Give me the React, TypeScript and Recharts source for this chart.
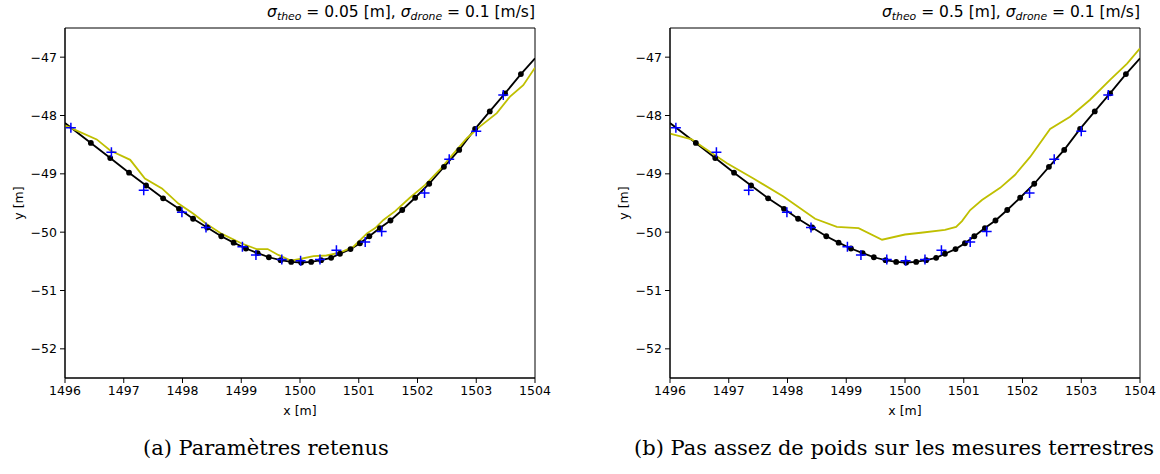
import React from "react";
import { ComposedChart, Line, Scatter, XAxis, YAxis, ReferenceArea } from "recharts";

// true profile (black dots)
const truthX = [
  1496.0, 1496.44, 1496.77, 1497.09, 1497.38, 1497.67, 1497.94, 1498.18, 1498.42,
  1498.66, 1498.87, 1499.08, 1499.28, 1499.47, 1499.67, 1499.85, 1500.02, 1500.19,
  1500.36, 1500.53, 1500.68, 1500.86, 1501.02, 1501.18, 1501.36, 1501.54, 1501.74,
  1501.96, 1502.2, 1502.45, 1502.71, 1502.98, 1503.23, 1503.49, 1503.76, 1504.0,
];
const truthY = [
  -48.13, -48.47, -48.73, -48.98, -49.2, -49.42, -49.6, -49.77, -49.92, -50.07,
  -50.18, -50.28, -50.36, -50.43, -50.48, -50.51, -50.52, -50.51, -50.48, -50.44,
  -50.37, -50.29, -50.19, -50.07, -49.93, -49.8, -49.62, -49.41, -49.17, -48.88,
  -48.59, -48.23, -47.93, -47.62, -47.29, -47.02,
];

// ground measurements (blue crosses)
const obsX = [
  1496.1, 1496.79, 1497.34, 1497.99, 1498.4, 1499.02, 1499.25, 1499.69, 1500.01,
  1500.34, 1500.62, 1501.11, 1501.39, 1502.12, 1502.54, 1503.0, 1503.46,
];
const obsY = [
  -48.21, -48.63, -49.28, -49.66, -49.92, -50.25, -50.39, -50.47, -50.49, -50.47,
  -50.31, -50.17, -49.99, -49.33, -48.75, -48.27, -47.65,
];

// estimate, sigma_theo = 0.05
const estAX = [
  1496.0, 1496.54, 1496.77, 1497.11, 1497.36, 1497.65, 1497.93, 1498.18, 1498.41,
  1498.67, 1499.0, 1499.26, 1499.45, 1499.63, 1499.85, 1500.0, 1500.23, 1500.45,
  1500.68, 1500.91, 1501.14, 1501.28, 1501.42, 1501.62, 1501.87, 1502.13, 1502.38,
  1502.59, 1502.84, 1503.06, 1503.35, 1503.57, 1503.8, 1504.0,
];
const estAY = [
  -48.17, -48.41, -48.6, -48.76, -49.08, -49.25, -49.51, -49.68, -49.86, -50.03,
  -50.19, -50.29, -50.29, -50.39, -50.49, -50.46, -50.41, -50.4, -50.35, -50.25,
  -50.02, -49.93, -49.79, -49.64, -49.41, -49.19, -48.93, -48.68, -48.39, -48.19,
  -47.96, -47.68, -47.48, -47.18,
];

// estimate, sigma_theo = 0.5
const estBX = [
  1496.0, 1496.37, 1496.57, 1496.97, 1497.42, 1497.93, 1498.47, 1498.84, 1499.21,
  1499.61, 1500.0, 1500.27, 1500.68, 1500.87, 1500.97, 1501.11, 1501.31, 1501.62,
  1501.87, 1502.13, 1502.47, 1502.81, 1503.15, 1503.49, 1503.78, 1504.0,
];
const estBY = [
  -48.31, -48.41, -48.55, -48.82, -49.08, -49.39, -49.77, -49.91, -49.93, -50.13,
  -50.04, -50.01, -49.96, -49.91, -49.81, -49.62, -49.45, -49.24, -49.02, -48.71,
  -48.23, -48.02, -47.73, -47.39, -47.11, -46.85,
];

const xTicks = [1496, 1497, 1498, 1499, 1500, 1501, 1502, 1503, 1504];
const yTicks = [-52, -51, -50, -49, -48, -47];
const xDomain: [number, number] = [1496, 1504];
const yDomain: [number, number] = [-52.5, -46.5];

const zip = (xs: number[], ys: number[]) => xs.map((x, i) => ({ x, y: ys[i] }));
const truth = zip(truthX, truthY);
const obs = zip(obsX, obsY);
const estA = zip(estAX, estAY);
const estB = zip(estBX, estBY);

const tickStyle = { fill: "#000", fontSize: 12.5, fontFamily: "DejaVu Sans" };
const fmt = (v: number) => (v < 0 ? "\u2212" + Math.abs(v) : String(v));

const Plus = (p: any) => {
  const { cx, cy } = p;
  if (cx == null || cy == null) return <g />;
  return (
    <path
      d={`M${cx - 5},${cy}H${cx + 5}M${cx},${cy - 5}V${cy + 5}`}
      stroke="#0000ff"
      strokeWidth={1.5}
      fill="none"
    />
  );
};

const TruthDot = (p: any) => {
  const { cx, cy, index } = p;
  if (index === 0 || index === truth.length - 1) return <g key={`d${index}`} />;
  return <circle key={`d${index}`} cx={cx} cy={cy} r={2.9} fill="#000" />;
};

function Panel({ est, width, right }: { est: { x: number; y: number }[]; width: number; right: number }) {
  return (
    <ComposedChart
      width={width}
      height={474}
      margin={{ top: 28, right, bottom: 56, left: 0 }}
    >
      <XAxis
        type="number"
        dataKey="x"
        domain={xDomain}
        ticks={xTicks}
        allowDataOverflow
        height={40}
        tickSize={5}
        tickMargin={3}
        tick={tickStyle}
        axisLine={{ stroke: "#000", strokeWidth: 1 }}
        tickLine={{ stroke: "#000" }}
        label={{
          content: ({ viewBox }: any) => (
            <text
              x={viewBox.x + viewBox.width / 2}
              y={viewBox.y + 37}
              textAnchor="middle"
              fontSize={12.5}
              fontFamily="DejaVu Sans"
              fill="#000"
            >
              x [m]
            </text>
          ),
        }}
      />
      <YAxis
        type="number"
        dataKey="y"
        domain={yDomain}
        ticks={yTicks}
        allowDataOverflow
        width={65}
        tickSize={5}
        tickMargin={3}
        tick={tickStyle}
        tickFormatter={fmt}
        axisLine={{ stroke: "#000", strokeWidth: 1 }}
        tickLine={{ stroke: "#000" }}
        label={{
          content: ({ viewBox }: any) => {
            const cx = viewBox.x + 18;
            const cy = viewBox.y + viewBox.height / 2;
            return (
              <text
                x={cx}
                y={cy}
                transform={`rotate(-90 ${cx} ${cy})`}
                textAnchor="middle"
                dominantBaseline="central"
                fontSize={12.5}
                fontFamily="DejaVu Sans"
                fill="#000"
              >
                y [m]
              </text>
            );
          },
        }}
      />
      {/* axes frame */}
      <ReferenceArea
        x1={xDomain[0]}
        x2={xDomain[1]}
        y1={yDomain[0]}
        y2={yDomain[1]}
        fill="none"
        stroke="#000"
        strokeWidth={1}
        ifOverflow="visible"
      />
      <Line
        data={truth}
        dataKey="y"
        stroke="#000"
        strokeWidth={1.8}
        dot={TruthDot}
        activeDot={false}
        isAnimationActive={false}
        type="linear"
      />
      <Line
        data={est}
        dataKey="y"
        stroke="#bfbf00"
        strokeWidth={1.8}
        dot={false}
        activeDot={false}
        isAnimationActive={false}
        type="linear"
      />
      <Scatter data={obs} dataKey="y" shape={Plus} isAnimationActive={false} />
    </ComposedChart>
  );
}

const Sub = ({ children }: { children: React.ReactNode }) => (
  <span style={{ fontSize: "70%", fontStyle: "italic", position: "relative", top: "0.3em" }}>{children}</span>
);

function Title({ theo, right }: { theo: string; right: number }) {
  return (
    <div
      style={{
        position: "absolute",
        top: 3,
        left: right - 400,
        width: 400,
        textAlign: "right",
        fontFamily: "DejaVu Sans",
        fontSize: 15.5,
        lineHeight: "18px",
        whiteSpace: "nowrap",
      }}
    >
      <i>σ</i>
      <Sub>theo</Sub> = {theo} [m], <i>σ</i>
      <Sub>drone</Sub> = 0.1 [m/s]
    </div>
  );
}

const captionStyle: React.CSSProperties = {
  position: "absolute",
  top: 435,
  fontFamily: "DejaVu Serif",
  fontSize: 21,
  lineHeight: "26px",
  whiteSpace: "nowrap",
};

export default function App() {
  return (
    <div
      style={{
        position: "absolute",
        left: 0,
        top: 0,
        width: 1160,
        height: 474,
        overflow: "hidden",
        background: "#fff",
      }}
    >
      <div style={{ position: "absolute", left: 0, top: 0 }}>
        <Panel est={estA} width={580} right={45} />
      </div>
      <div style={{ position: "absolute", left: 605, top: 0 }}>
        <Panel est={estB} width={555} right={20} />
      </div>
      <Title theo="0.05" right={535} />
      <Title theo="0.5" right={1140} />
      <div style={{ ...captionStyle, left: 143 }}>(a) Paramètres retenus</div>
      <div style={{ ...captionStyle, left: 634 }}>(b) Pas assez de poids sur les mesures terrestres</div>
    </div>
  );
}
